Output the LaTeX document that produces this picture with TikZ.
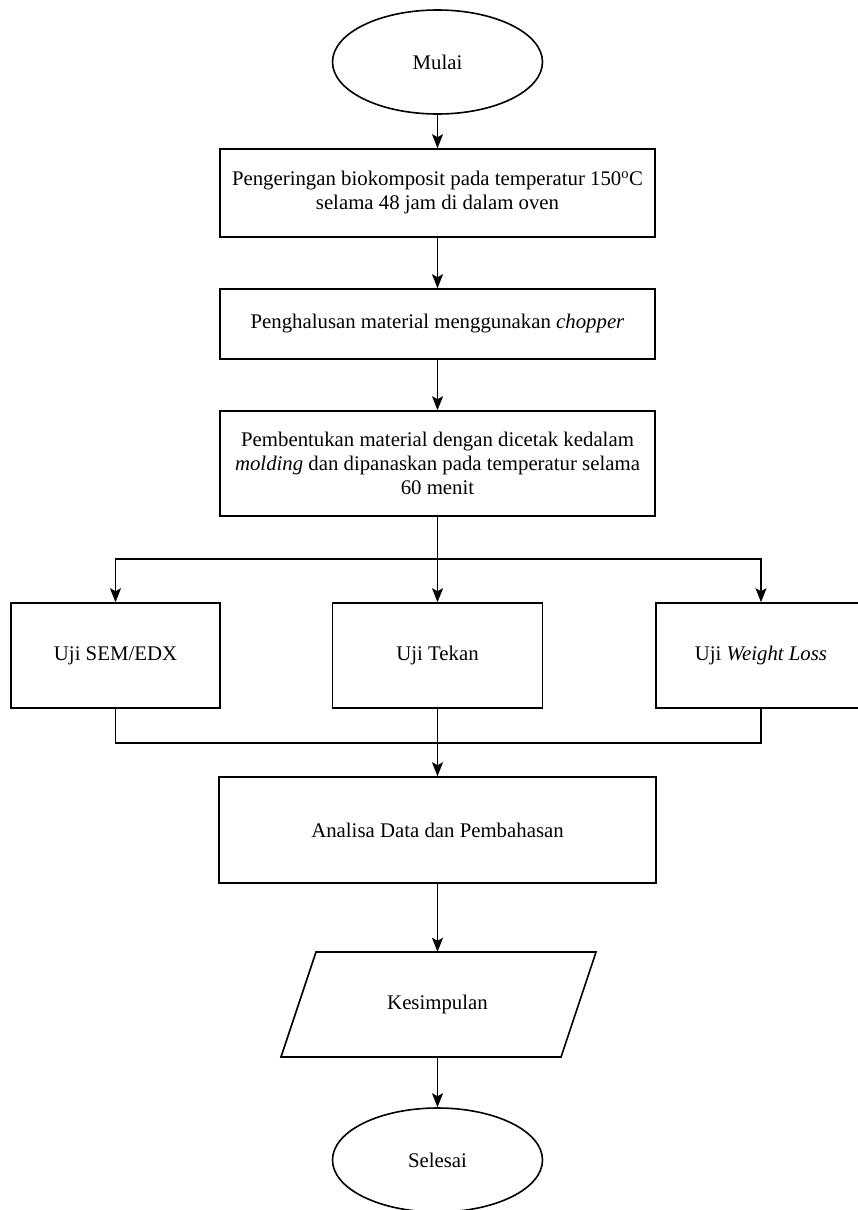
\documentclass[tikz,border=0pt]{standalone}
\usepackage{fontspec}
\setmainfont{Liberation Serif}
\usetikzlibrary{shapes.geometric,arrows.meta,calc}
\begin{document}
\begin{tikzpicture}[x=1pt,y=-1pt,
  txt/.style={font=\fontsize{20.8}{24}\selectfont, align=center, inner sep=0pt},
  procbox/.style={txt, draw, line width=1.6pt, rectangle},
  termin/.style={txt, draw, line width=1.6pt, ellipse, minimum width=210pt, minimum height=104pt},
  ln/.style={line width=1.6pt},
  conn/.style={line width=1.6pt, -{Stealth[length=14pt,width=11pt,inset=3pt]}}
]
\useasboundingbox[fill=white] (0,0) rectangle (857,1210);

\node[termin] (mulai) at (437.5,62) {Mulai};
\node[procbox, minimum width=435pt, minimum height=88pt] (b1) at (437.5,193)
  {\raisebox{-3pt}{\begin{tabular}{@{}c@{}}Pengeringan biokomposit pada temperatur 150\textsuperscript{o}C\\selama 48 jam di dalam oven\end{tabular}}};
\node[procbox, minimum width=435pt, minimum height=70pt] (b2) at (437.5,324)
  {Penghalusan material menggunakan \textit{chopper}};
\node[procbox, minimum width=435pt, minimum height=105pt] (b3) at (437.5,463.5)
  {Pembentukan material dengan dicetak kedalam\\\textit{molding} dan dipanaskan pada temperatur selama\\60 menit};

\node[procbox, minimum width=209pt, minimum height=105pt] (sem) at (115.5,655.5) {Uji SEM/EDX};
\node[procbox, minimum width=210pt, minimum height=105pt] (tekan) at (437.5,655.5) {Uji Tekan};
\node[procbox, minimum width=210pt, minimum height=105pt] (wl) at (761,655.5) {Uji \textit{Weight Loss}};

\node[procbox, minimum width=437pt, minimum height=106pt] (analisa) at (437.5,830) {Analisa Data dan Pembahasan};

\node[txt, minimum width=280pt, minimum height=105pt] (kes) at (437.5,1004.5) {Kesimpulan};
\draw[ln, line join=miter] (316,952) -- (596,952) -- (561,1057) -- (281,1057) -- cycle;

\node[termin] (selesai) at (437.5,1160) {Selesai};

\coordinate (split) at (437.5,559);
\coordinate (merge) at (437.5,743);

\draw[conn] (mulai) -- (b1);
\draw[conn] (b1) -- (b2);
\draw[conn] (b2) -- (b3);
\draw[ln] (b3.south) -- (split);
\draw[conn] (split) -| (sem.north);
\draw[conn] (split) -| (wl.north);
\draw[conn] (split) -- (tekan.north);
\draw[ln] (sem.south) |- (merge);
\draw[ln] (wl.south) |- (merge);
\draw[conn] (tekan.south) -- (analisa.north);
\draw[conn] (analisa.south) -- (kes.north);
\draw[conn] (kes.south) -- (selesai.north);
\end{tikzpicture}
\end{document}
